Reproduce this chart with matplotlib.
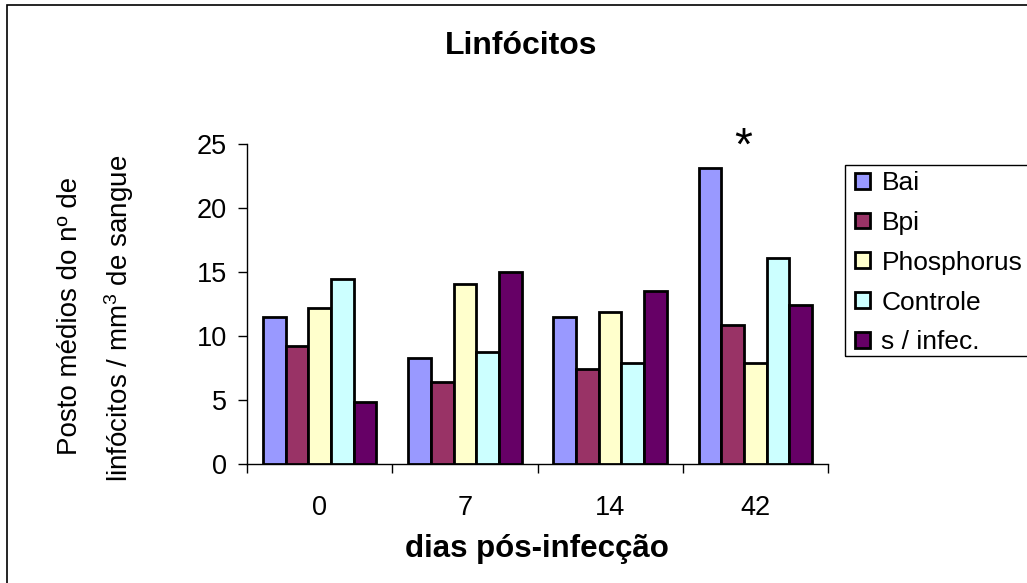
import matplotlib
matplotlib.use("Agg")
import matplotlib.pyplot as plt
import numpy as np
from matplotlib.patches import Rectangle, Patch

plt.rcParams['font.family'] = ['Liberation Sans', 'DejaVu Sans']
plt.rcParams['mathtext.default'] = 'regular'

categories = ['0', '7', '14', '42']
series_names = ['Bai', 'Bpi', 'Phosphorus', 'Controle', 's / infec.']
bai = [11.5, 8.3, 11.5, 23.1]
bpi = [9.2, 6.4, 7.45, 10.9]
phosphorus = [12.2, 14.1, 11.9, 7.9]
controle = [14.5, 8.75, 7.9, 16.1]
s_infec = [4.9, 15.0, 13.5, 12.45]
colors = ['#9999FF', '#993366', '#FFFFCC', '#CCFFFF', '#660066']
yticks = [0, 5, 10, 15, 20, 25]

values = [bai, bpi, phosphorus, controle, s_infec]

W, H = 1027, 583
fig = plt.figure(figsize=(W / 100, H / 100), dpi=100)
fig.patch.set_facecolor('white')

ax = fig.add_axes([247 / W, 1 - 464.3 / H, (828 - 247) / W, (464.3 - 144) / H])

n = len(values)
bw = 0.156
x = np.arange(len(categories))
for i, (vals, c, name) in enumerate(zip(values, colors, series_names)):
    ax.bar(x + (i - (n - 1) / 2) * bw, vals, width=bw, color=c,
           edgecolor='black', linewidth=2.0, label=name, zorder=3)

ax.set_xlim(-0.5, len(categories) - 0.5)
ax.set_ylim(0, 25)
ax.set_yticks(yticks)
ax.set_yticklabels([str(v) for v in yticks], fontsize=19.5)
ax.set_xticks(x)
ax.set_xticklabels(categories, fontsize=19.5)
ax.set_xticks(np.arange(len(categories) + 1) - 0.5, minor=True)
ax.tick_params(axis='x', which='major', length=0, pad=22)
ax.tick_params(axis='x', which='minor', length=6.5, width=1, direction='out')
ax.tick_params(axis='y', which='major', length=6.5, width=1, direction='out', pad=8)
for s in ['top', 'right']:
    ax.spines[s].set_visible(False)
for s in ['left', 'bottom']:
    ax.spines[s].set_linewidth(1)
    ax.spines[s].set_color('black')

# asterisk over day 42
ax.text(3 - 0.086, 24.7, '*', fontsize=33, ha='center', va='center', clip_on=False)

# titles
fig.text(521 / W, 1 - 46 / H, 'Linfócitos', fontsize=23, fontweight='bold',
         ha='center', va='center')
fig.text(537 / W, 1 - 549 / H, 'dias pós-infecção', fontsize=22.5, fontweight='bold',
         ha='center', va='center')
fig.text(77 / W, 1 - 316 / H, 'Posto médios do nº de', fontsize=20, rotation=90,
         rotation_mode='anchor', ha='center', va='baseline')
fig.text(128 / W, 1 - 318 / H, 'linfócitos / mm$^3$ de sangue', fontsize=20, rotation=90,
         rotation_mode='anchor', ha='center', va='baseline')

# legend
handles = [Patch(facecolor=c, edgecolor='black', linewidth=2) for c in colors]
leg = fig.legend(handles, series_names, loc='upper left',
                 bbox_to_anchor=(855 / W, 1 - 171 / H), frameon=False, fontsize=19,
                 handlelength=0.55, handleheight=0.55, handletextpad=0.45,
                 labelspacing=0.6, borderpad=0, borderaxespad=0)
fig.patches.append(Rectangle((845 / W, 1 - 356 / H), 0.3, (356 - 165) / H,
                             transform=fig.transFigure, fill=False,
                             edgecolor='black', linewidth=1))

# outer frame
fig.patches.append(Rectangle((7 / W, -0.2), 1.5, 1 - 5 / H + 0.2,
                             transform=fig.transFigure, fill=False,
                             edgecolor='black', linewidth=1.2))

fig.savefig('out.png', dpi=100)
